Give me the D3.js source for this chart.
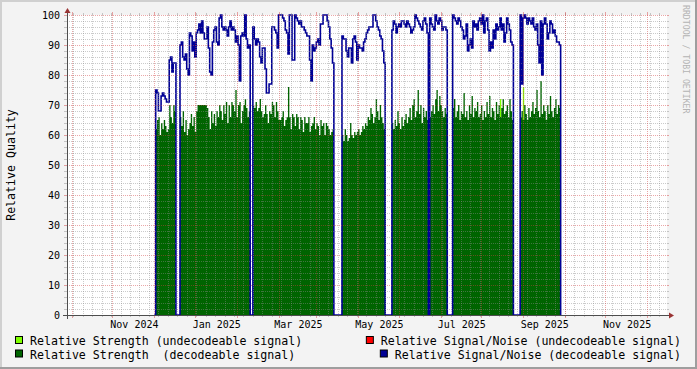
<!DOCTYPE html>
<html><head><meta charset="utf-8">
<script src="https://cdn.jsdelivr.net/npm/d3@7"></script>
<style>
html,body{margin:0;padding:0;background:#f3f3f3;}
svg{display:block;}
text{font-family:"DejaVu Sans Mono",monospace;white-space:pre;}
</style></head>
<body>
<svg id="chart" width="697" height="369"></svg>
<script>
// ---------------- data ----------------
const firstDay = "2024-11-01";           // date of first daily value
const snrDecoded = [
 0,
 75,74,68,68,73,74,73,72,71,71,85,86,81,84,84,
 0,0,0,
 90,91,86,85,87,82,80,94,93,88,91,86,94,95,97,94,98,94,92,92,96,89,81,80,91,95,96,91,90,99,100,96,95,96,95,93,96,98,95,96,95,91,93,90,78,93,94,93,100,92,89,90,
 0,0,
 96,92,90,92,91,86,84,89,89,82,74,74,77,77,96,96,95,94,89,100,100,100,99,98,95,94,87,100,100,85,85,100,99,98,97,98,96,96,95,94,93,93,85,78,90,88,89,91,92,90,97,97,100,100,100,98,96,92,89,84,
 0,0,0,0,0,0,
 93,92,92,88,86,89,89,84,92,93,91,85,90,89,89,88,91,92,94,95,96,96,96,100,100,98,96,95,93,92,88,84,
 0,0,0,0,0,
 95,98,97,94,96,97,96,98,98,97,96,98,97,96,94,95,96,100,99,98,97,96,95,98,99,97,94,
 0,
 99,97,96,95,100,98,97,99,98,95,96,96,95,
 0,0,0,0,
 100,99,98,97,99,98,96,95,92,93,97,88,90,92,89,98,96,97,95,98,99,97,100,94,98,99,95,88,91,89,95,92,97,95,96,99,95,97,91,94,99,97,95,91,90,
 0,0,0,0,0,
 100,77,99,100,99,97,99,98,97,99,96,95,97,90,84,98,80,97,99,97,92,94,98,97,94,95,93,91,91,90,
 0
];
const strengthDecoded = [
 0,
 62,65,66,60,64,62,65,63,61,62,70,66,64,70,68,
 0,0,0,
 66,63,68,61,65,60,62,64,67,63,66,61,68,70,70,70,70,70,70,70,69,66,62,68,64,67,63,68,66,70,68,65,70,67,71,64,70,66,71,70,68,75,66,70,71,64,68,70,72,69,66,68,
 0,0,
 70,69,71,68,69,72,68,66,67,70,67,64,68,67,71,70,66,71,68,65,65,66,68,63,65,66,76,66,62,67,66,63,67,66,62,66,65,61,66,64,64,66,61,63,64,66,62,64,63,60,65,63,64,60,64,63,62,60,61,62,
 0,0,0,0,0,0,
 60,58,62,60,58,59,64,60,59,61,60,61,62,60,61,63,62,64,63,66,65,69,67,64,66,72,68,65,70,66,64,62,
 0,0,0,0,0,
 64,62,65,63,68,64,62,66,63,65,67,64,66,69,65,70,72,66,68,75,67,70,64,69,66,68,65,
 0,
 66,68,70,67,72,75,68,73,70,68,66,69,67,
 0,0,0,0,
 69,72,66,68,70,65,68,67,74,66,68,65,70,67,73,66,69,68,71,66,67,70,65,68,66,71,67,73,66,69,68,65,71,67,70,66,69,72,67,68,70,66,72,68,65,
 0,0,0,0,0,
 66,68,65,70,67,65,69,66,68,71,67,69,75,68,66,78,67,70,68,65,70,67,73,68,66,69,72,67,70,69,
 0
];
const strengthUndecodedDays   = ["2025-07-15","2025-08-01"];
const strengthUndecodedValues = [72, 76];
const snrUndecodedDays   = [];
const snrUndecodedValues = [];

const xDomain = ["2024-08-28T07:07:00Z","2025-11-15T19:07:00Z"];
const yTicks = [0,10,20,30,40,50,60,70,80,90,100];
const xTickLabels = ["Nov 2024","Jan 2025","Mar 2025","May 2025","Jul 2025","Sep 2025","Nov 2025"];
const xTickMonths = ["2024-11-01","2025-01-01","2025-03-01","2025-05-01","2025-07-01","2025-09-01","2025-11-01"];
const legendItems = [
  {label:"Relative Strength (undecodeable signal)", color:"#7fff00", col:0, row:0},
  {label:"Relative Signal/Noise (undecodeable signal)", color:"#ff0000", col:1, row:0},
  {label:"Relative Strength  (decodeable signal)", color:"#006400", col:0, row:1},
  {label:"Relative Signal/Noise (decodeable signal)", color:"#000094", col:1, row:1}
];

// ---------------- drawing ----------------
const svg = d3.select("#chart");
const W = 697, H = 369;
const X0 = 67, X1 = 667, Y0 = 315, Y1 = 15;

const x = d3.scaleUtc().domain(xDomain.map(d=>new Date(d))).range([X0, X1]);
const y = d3.scaleLinear().domain([0,100]).range([Y0, Y1]);

// background + 3D frame
svg.append("rect").attr("width",W).attr("height",H).attr("fill","#f3f3f3");
svg.append("rect").attr("x",0).attr("y",0).attr("width",W).attr("height",2).attr("fill","#d0d0d0");
svg.append("rect").attr("x",0).attr("y",0).attr("width",2).attr("height",H).attr("fill","#d0d0d0");
svg.append("rect").attr("x",0).attr("y",H-2).attr("width",W).attr("height",2).attr("fill","#9e9e9e");
svg.append("rect").attr("x",W-2).attr("y",0).attr("width",2).attr("height",H).attr("fill","#9e9e9e");

// canvas
svg.append("rect").attr("x",X0).attr("y",Y1).attr("width",X1-X0).attr("height",Y0-Y1).attr("fill","#ffffff");

const start = d3.utcDay.floor(new Date(firstDay+"T00:00:00Z"));
const dates = snrDecoded.map((_,i)=>d3.utcDay.offset(start,i));
const dataG = svg.append("g");

// undecodeable strength (light green) -- drawn first
strengthUndecodedDays.forEach((d,i)=>{
  const t = new Date(d+"T00:00:00Z");
  dataG.append("rect")
    .attr("x", x(t)).attr("width", x(d3.utcDay.offset(t,1)) - x(t))
    .attr("y", y(strengthUndecodedValues[i])).attr("height", y(0)-y(strengthUndecodedValues[i]))
    .attr("fill","#7fff00");
});

// decodeable strength area
const sData = strengthDecoded.map((v,i)=>({t:dates[i], v}));
const area = d3.area().curve(d3.curveStepAfter).x(d=>x(d.t)).y0(y(0)).y1(d=>y(d.v));
dataG.append("path").datum(sData).attr("d",area).attr("fill","#006400");

// snr line
const nData = snrDecoded.map((v,i)=>({t:dates[i], v}));
const line = d3.line().curve(d3.curveStepAfter).x(d=>x(d.t)).y(d=>y(d.v));
dataG.append("path").datum(nData).attr("d",line).attr("fill","none")
  .attr("stroke","#000096").attr("stroke-width",1.6);

// grid (drawn over data, as rrdtool does)
const gridG = svg.append("g").attr("shape-rendering","crispEdges");
const minorCol = "rgba(140,140,140,0.45)";
const majorCol = "rgba(210,60,60,0.45)";
// horizontal
d3.range(0,101,2).forEach(v=>{
  if (v===0) return;
  const major = v%10===0;
  const yy = Math.round(y(v))+0.5;
  gridG.append("line").attr("x1",X0).attr("x2",X1).attr("y1",yy).attr("y2",yy)
    .attr("stroke", major?majorCol:minorCol).attr("stroke-dasharray","1,1");
  gridG.append("line").attr("x1",X0-3).attr("x2",X0).attr("y1",yy).attr("y2",yy)
    .attr("stroke", major?majorCol:minorCol);
  gridG.append("line").attr("x1",X1).attr("x2",X1+2).attr("y1",yy).attr("y2",yy)
    .attr("stroke", major?majorCol:minorCol);
});
// vertical minor (weekly)
x.ticks(d3.utcMonday).forEach(t=>{
  const xx = Math.round(x(t))+0.5;
  gridG.append("line").attr("x1",xx).attr("x2",xx).attr("y1",Y1).attr("y2",Y0)
    .attr("stroke",minorCol).attr("stroke-dasharray","1,1");
  gridG.append("line").attr("x1",xx).attr("x2",xx).attr("y1",Y0).attr("y2",Y0+2).attr("stroke",minorCol);
  gridG.append("line").attr("x1",xx).attr("x2",xx).attr("y1",Y1-2).attr("y2",Y1).attr("stroke",minorCol);
});
// vertical major (monthly)
x.ticks(d3.utcMonth).forEach(t=>{
  const xx = Math.round(x(t))+0.5;
  gridG.append("line").attr("x1",xx).attr("x2",xx).attr("y1",Y1).attr("y2",Y0)
    .attr("stroke",majorCol).attr("stroke-dasharray","1,1");
  gridG.append("line").attr("x1",xx).attr("x2",xx).attr("y1",Y0).attr("y2",Y0+3).attr("stroke",majorCol);
  gridG.append("line").attr("x1",xx).attr("x2",xx).attr("y1",Y1-3).attr("y2",Y1).attr("stroke",majorCol);
});

// axes
const axCol = "#4d4d4d";
svg.append("line").attr("x1",X0-4).attr("x2",X1+4).attr("y1",Y0+0.5).attr("y2",Y0+0.5)
  .attr("stroke",axCol).attr("stroke-width",1);
svg.append("line").attr("x1",X0+0.5).attr("x2",X0+0.5).attr("y1",Y0+4).attr("y2",Y1-4)
  .attr("stroke",axCol).attr("stroke-width",1);
svg.append("path").attr("d",`M${X1+2},${Y0-2.5}L${X1+7},${Y0+0.5}L${X1+2},${Y0+3.5}Z`).attr("fill","#993333");
svg.append("path").attr("d",`M${X0-2.5},${Y1-2}L${X0+0.5},${Y1-7}L${X0+3.5},${Y1-2}Z`).attr("fill","#993333");

// y tick labels
const tickG = svg.append("g").attr("font-size","10px").attr("fill","#000");
yTicks.forEach(v=>{
  tickG.append("text").attr("x",X0-7).attr("y",y(v)+3.5).attr("text-anchor","end").text(v);
});
// x tick labels (centered on middle of preceding month, as rrdtool does)
xTickMonths.forEach((m,i)=>{
  const t = new Date(m+"T00:00:00Z");
  const prev = d3.utcMonth.offset(t,-1);
  const cx = (x(prev)+x(t))/2 + 1;
  tickG.append("text").attr("x",cx).attr("y",Y0+13).attr("text-anchor","middle").text(xTickLabels[i]);
});

// y axis title
svg.append("text").attr("transform",`translate(15,${(Y0+Y1)/2}) rotate(-90)`)
  .attr("text-anchor","middle").attr("font-size","11.6px").attr("fill","#000").text("Relative Quality");

// watermark
svg.append("text").attr("transform",`translate(683,5) rotate(90)`)
  .attr("text-anchor","start").attr("font-size","8.2px").attr("fill","#b4b4b4").text("RRDTOOL / TOBI OETIKER");

// legend
const legG = svg.append("g").attr("font-size","11.6px").attr("fill","#000");
legendItems.forEach(it=>{
  const by = 345 + it.row*13.5;
  let tx;
  const tmp = legG.append("text").attr("y",by).text(it.label);
  if (it.col===0) { tx = 30; tmp.attr("x",tx); }
  else { tmp.attr("x",681).attr("text-anchor","end"); tx = 681 - tmp.node().getComputedTextLength(); }
  legG.append("rect").attr("x",tx-14.5).attr("y",by-8.5).attr("width",7).attr("height",7)
    .attr("fill",it.color).attr("stroke","#000").attr("stroke-width",1);
});
</script>
</body></html>
